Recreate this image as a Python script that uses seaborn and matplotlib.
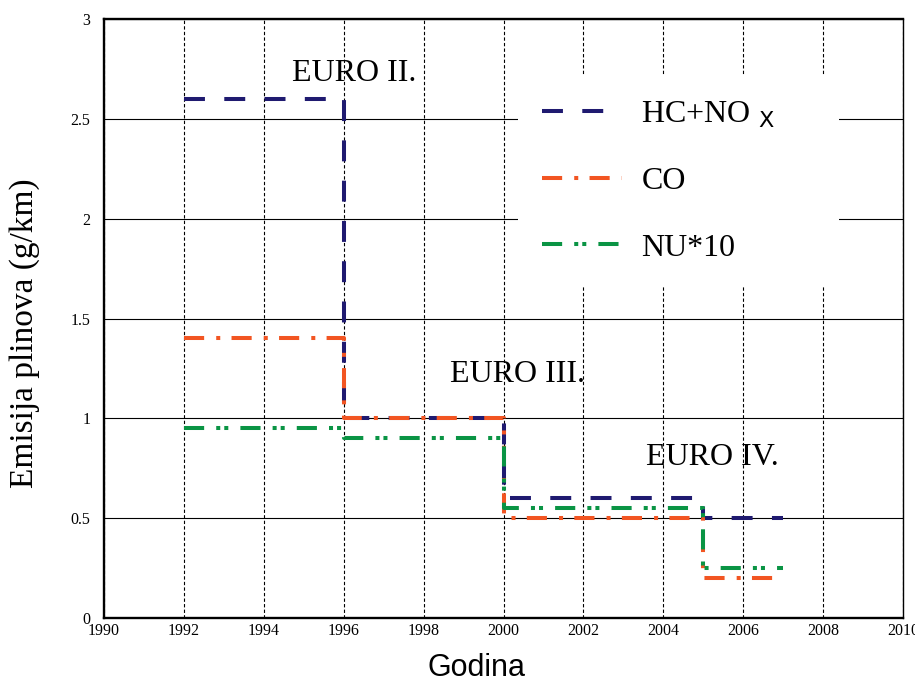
import pandas as pd
import seaborn as sns
import matplotlib.pyplot as plt

# step values (each value holds from its year until the next one)
years = [1992, 1996, 2000, 2005, 2007]
hc_nox = [2.6, 1.0, 0.6, 0.5, 0.5]
co = [1.4, 1.0, 0.5, 0.2, 0.2]
nu10 = [0.95, 0.9, 0.55, 0.25, 0.25]

series = ["HC+NOx", "CO", "NU*10"]
legend_labels = [r"HC+NO$\;{}_\mathsf{X}$", "CO", "NU*10"]
colors = {"HC+NOx": "#1f1a70", "CO": "#f25522", "NU*10": "#0a9444"}
dashes = {"HC+NOx": (5.2, 4.8), "CO": (5, 3, 1, 2.8), "NU*10": (5, 3, 1, 1, 1, 3)}

x_ticks = list(range(1990, 2011, 2))
y_ticks = [0, 0.5, 1, 1.5, 2, 2.5, 3]
y_tick_labels = ["0", "0.5", "1", "1.5", "2", "2.5", "3"]

df = pd.concat([
    pd.DataFrame({"Godina": years, "Emisija": hc_nox, "Plin": "HC+NOx"}),
    pd.DataFrame({"Godina": years, "Emisija": co, "Plin": "CO"}),
    pd.DataFrame({"Godina": years, "Emisija": nu10, "Plin": "NU*10"}),
])

sns.set_style("white")
plt.rcParams["font.family"] = ["Liberation Serif", "DejaVu Serif"]
plt.rcParams["mathtext.fontset"] = "dejavusans"
plt.rcParams["text.color"] = "black"
plt.rcParams["axes.labelcolor"] = "black"

fig, ax = plt.subplots(figsize=(9.15, 6.82), dpi=100)
fig.subplots_adjust(left=0.1137, right=0.9869, bottom=0.0938, top=0.9721)

sns.lineplot(data=df, x="Godina", y="Emisija", hue="Plin", style="Plin",
             hue_order=series, style_order=series, palette=colors, dashes=dashes,
             drawstyle="steps-post", linewidth=2.9, legend=False, ax=ax)

ax.set_xlim(1990, 2010)
ax.set_ylim(0, 3)
ax.set_xticks(x_ticks)
ax.set_yticks(y_ticks)
ax.set_yticklabels(y_tick_labels)
ax.tick_params(axis="both", length=0, labelsize=11.5, colors="black")
ax.tick_params(axis="y", pad=10)
ax.tick_params(axis="x", pad=3.5)

ax.xaxis.grid(True, linestyle=(0, (3, 2)), color="black", linewidth=0.8)
ax.yaxis.grid(True, linestyle="-", color="black", linewidth=0.8)
ax.set_axisbelow(True)

for side in ["left", "bottom", "top"]:
    ax.spines[side].set_linewidth(1.7)
    ax.spines[side].set_color("black")
ax.spines["right"].set_linewidth(1.0)
ax.spines["right"].set_color("black")

ax.set_ylabel("Emisija plinova (g/km)", fontsize=24, color="black")
ax.yaxis.set_label_coords(-0.08, 0.476)
ax.set_xlabel("Godina", fontsize=22, color="black",
              family=["Liberation Sans", "DejaVu Sans"])
ax.xaxis.set_label_coords(0.466, -0.058)

ax.text(1994.7, 2.69, "EURO II.", fontsize=23, ha="left", va="baseline")
ax.text(1998.65, 1.18, "EURO III.", fontsize=23, ha="left", va="baseline")
ax.text(2003.575, 0.765, "EURO IV.", fontsize=23, ha="left", va="baseline")

leg = ax.legend(ax.lines[:3], legend_labels, loc="upper left",
                bbox_to_anchor=(0.5175, 0.551, 0.4025, 0.3555), mode="expand",
                borderaxespad=0, fontsize=23,
                handlelength=2.5, handletextpad=0.62, labelspacing=1.16,
                borderpad=0.76, frameon=True, fancybox=False, framealpha=1,
                facecolor="white", edgecolor="none")

plt.savefig("out.png", dpi=100)
